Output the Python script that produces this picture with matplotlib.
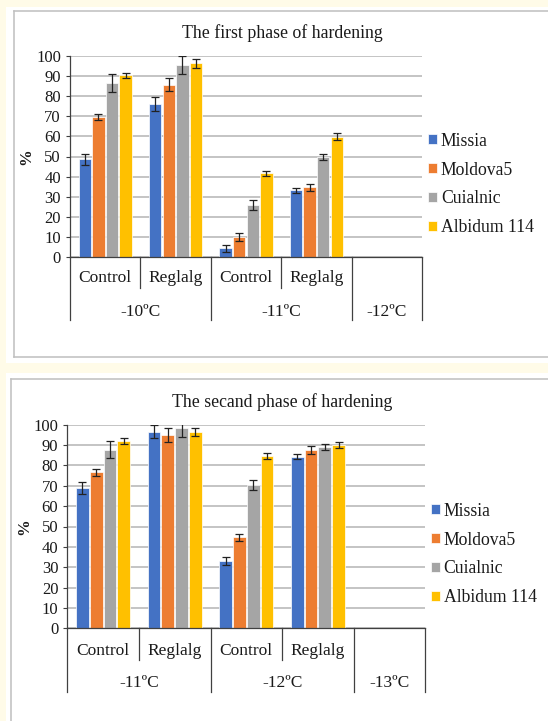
import matplotlib
matplotlib.use("Agg")
import matplotlib.pyplot as plt
from matplotlib.patches import Rectangle
from matplotlib.lines import Line2D
import numpy as np

plt.rcParams['font.family'] = ['Liberation Serif', 'DejaVu Serif']

# ---- data ----
varieties = ["Missia", "Moldova5", "Cuialnic", "Albidum 114"]
colors = ["#4472C4", "#ED7D31", "#A5A5A5", "#FFC000"]
treatments = ["Control", "Reglalg", "Control", "Reglalg", ""]

title1 = "The first phase of hardening"
temps1 = ["-10ºC", "-11ºC", "-12ºC"]
# values per variety over the categories (Control/Reglalg at each temperature)
missia1 = [48.6, 76.0, 4.4, 33.3]
moldova1 = [69.4, 85.7, 10.1, 34.7]
cuialnic1 = [86.6, 95.4, 26.0, 49.8]
albidum1 = [90.3, 96.3, 41.7, 59.9]
missia1_err = [2.7, 3.3, 1.9, 1.2]
moldova1_err = [1.5, 3.0, 1.8, 1.9]
cuialnic1_err = [4.5, 4.4, 2.3, 1.4]
albidum1_err = [1.2, 2.2, 1.3, 1.6]

title2 = "The secand phase of hardening"
temps2 = ["-11ºC", "-12ºC", "-13ºC"]
missia2 = [68.8, 96.6, 33.2, 84.3]
moldova2 = [76.6, 94.9, 44.8, 87.6]
cuialnic2 = [87.7, 98.2, 70.2, 88.9]
albidum2 = [92.0, 96.3, 84.8, 90.0]
missia2_err = [2.9, 3.3, 1.9, 1.2]
moldova2_err = [1.6, 3.6, 1.7, 2.0]
cuialnic2_err = [4.1, 4.0, 2.5, 1.4]
albidum2_err = [1.6, 2.0, 1.5, 1.5]

yticks = list(range(0, 101, 10))

# ---- figure geometry (pixels, origin top-left) ----
W, H = 548, 721
CREAM = "#FFFBE8"
BORDER = "#BFBFBF"
TEXT = "#1a1a1a"
AXIS = "#404040"

fig = plt.figure(figsize=(W / 100, H / 100), dpi=100, facecolor=CREAM)


def fx(x):
    return x / W


def fy(y):
    return 1 - y / H


def panel_box(x0, y0, x1, y1, bx, by0, by1):
    # white card
    fig.patches.append(Rectangle((fx(x0), fy(y1)), fx(x1) - fx(x0), fy(y0) - fy(y1),
                                 transform=fig.transFigure, facecolor="white",
                                 edgecolor="none", zorder=-10))
    # grey frame (left, top, bottom edges)
    lw = 1.1
    fig.lines.append(Line2D([fx(bx), fx(bx)], [fy(by0), fy(by1)], transform=fig.transFigure,
                            color=BORDER, lw=lw, zorder=-5))
    fig.lines.append(Line2D([fx(bx), 1.0], [fy(by0), fy(by0)], transform=fig.transFigure,
                            color=BORDER, lw=lw, zorder=-5))
    if by1 < H:
        fig.lines.append(Line2D([fx(bx), 1.0], [fy(by1), fy(by1)], transform=fig.transFigure,
                                color=BORDER, lw=lw, zorder=-5))


def draw_chart(geom, title, temps, series, errors):
    left, right, top, bottom = geom["axes"]
    ax = fig.add_axes([fx(left), fy(bottom), (right - left) / W, (bottom - top) / H])
    ax.set_facecolor("none")
    ax.set_axisbelow(True)

    n_cat = len(treatments)
    x = np.arange(n_cat)
    step = 0.193
    width = 0.178
    for i, (vals, errs) in enumerate(zip(series, errors)):
        xi = x[:len(vals)] + (i - 1.5) * step
        ax.bar(xi, vals, width=width, color=colors[i], edgecolor="white",
               linewidth=0.5, label=varieties[i], zorder=2)
        ax.errorbar(xi, vals, yerr=errs, fmt="none", ecolor="#222222",
                    elinewidth=0.9, capsize=2.8, capthick=0.9, zorder=3)

    ax.set_xlim(-0.5, n_cat - 0.5)
    ax.set_ylim(0, 100)
    ax.set_yticks(yticks)
    ax.yaxis.grid(True, color="#B4B4B4", lw=1.1)
    ax.set_xticks([])
    ax.tick_params(axis="y", length=2.9, width=0.8, color=AXIS, pad=3.6,
                   labelsize=12, labelcolor=TEXT)
    for s in ("top", "right"):
        ax.spines[s].set_visible(False)
    for s in ("left", "bottom"):
        ax.spines[s].set_color(AXIS)
        ax.spines[s].set_linewidth(0.9)

    # multi-level category axis
    hpx = bottom - top
    tr = ax.get_xaxis_transform()

    def yf(ypx):
        return (bottom - ypx) / hpx

    for xs in (0.5, 2.5):
        ax.plot([xs, xs], [0, yf(geom["inner"])], transform=tr, color=AXIS,
                lw=0.9, clip_on=False)
    for xs in (-0.5, 1.5, 3.5, 4.5):
        ax.plot([xs, xs], [0, yf(geom["outer"])], transform=tr, color=AXIS,
                lw=0.9, clip_on=False)
    for xi, lab in zip(x, treatments):
        if lab:
            ax.text(xi, yf(geom["cat_y"]), lab, transform=tr, ha="center",
                    va="center", fontsize=12.5, color=TEXT)
    for xc, lab in zip((0.5, 2.5, 4.0), temps):
        ax.text(xc, yf(geom["grp_y"]), lab, transform=tr, ha="center",
                va="center", fontsize=12.5, color=TEXT)

    fig.text(fx(282), fy(geom["title_y"]), title, ha="center", va="center",
             fontsize=12.8, color=TEXT)
    fig.text(fx(geom["ylab"][0]), fy(geom["ylab"][1]), "%", rotation=90,
             ha="center", va="center", fontsize=12, fontweight="bold", color=TEXT)

    ax.legend(loc="center left", bbox_to_anchor=(fx(geom["leg_x"]), fy(geom["leg_y"])),
              bbox_transform=fig.transFigure, frameon=False, fontsize=12.7,
              handlelength=0.52, handleheight=0.52, handletextpad=0.22,
              labelspacing=0.68, borderpad=0, borderaxespad=0, labelcolor=TEXT)
    return ax


panel_box(6, 7, W, 363, 14, 11, 357)
panel_box(6, 373, W, H, 11, 379, H + 5)

geom1 = dict(axes=(70, 422, 55.7, 257.3), inner=288, outer=320, cat_y=278,
             grp_y=311.7, title_y=33, ylab=(26, 157), leg_x=427.7, leg_y=184.5)
geom2 = dict(axes=(67.3, 425.3, 424.7, 628.3), inner=660, outer=691.7, cat_y=650.7,
             grp_y=683.3, title_y=401.7, ylab=(24.5, 526.7), leg_x=430.5, leg_y=554.5)

draw_chart(geom1, title1, temps1,
           [missia1, moldova1, cuialnic1, albidum1],
           [missia1_err, moldova1_err, cuialnic1_err, albidum1_err])
draw_chart(geom2, title2, temps2,
           [missia2, moldova2, cuialnic2, albidum2],
           [missia2_err, moldova2_err, cuialnic2_err, albidum2_err])

fig.savefig("out.png", dpi=100, facecolor=CREAM)
